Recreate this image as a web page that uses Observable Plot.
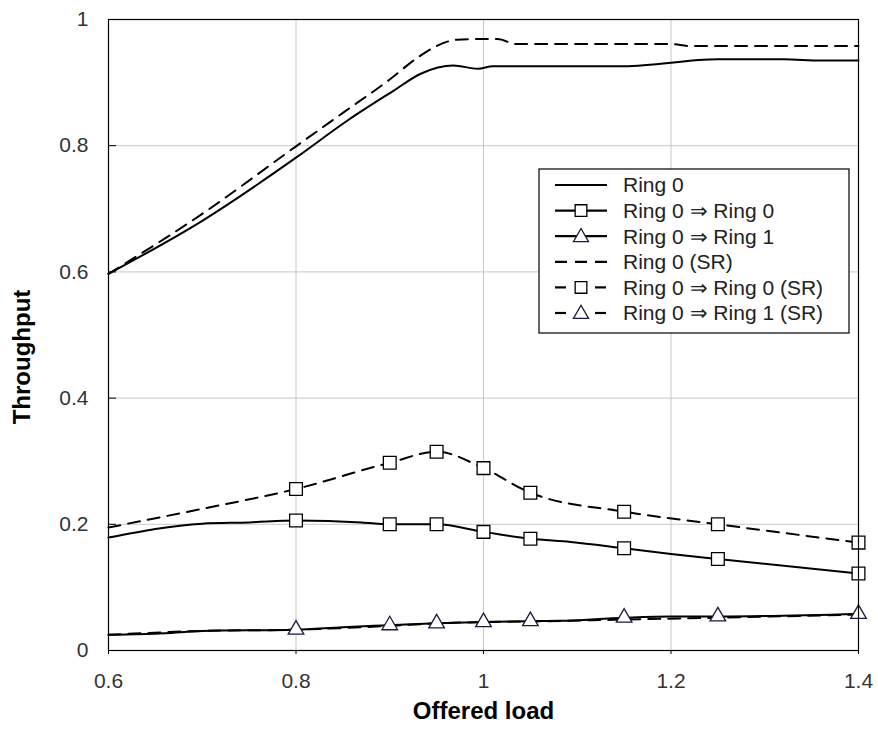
<!DOCTYPE html>
<html>
<head>
<meta charset="utf-8">
<script src="https://cdn.jsdelivr.net/npm/d3@7"></script>
<script src="https://cdn.jsdelivr.net/npm/@observablehq/plot@0.6"></script>
<style>
  html, body { margin: 0; padding: 0; background: #fff; }
  #chart { position: relative; width: 878px; height: 731px; }
  svg { font-family: "Liberation Sans", Arial, sans-serif; }
</style>
</head>
<body>
<div id="chart"></div>
<script>
// ---- data ----
const xTicks = [0.6, 0.8, 1, 1.2, 1.4];
const yTicks = [0, 0.2, 0.4, 0.6, 0.8, 1];
const xGrid = [0.8, 1, 1.2];
const yGrid = [0.2, 0.4, 0.6, 0.8];

const ring0X = [0.6, 0.7, 0.8, 0.855, 0.904, 0.933, 0.968, 0.994, 1.01, 1.15, 1.25, 1.32, 1.36, 1.4];
const ring0Y = [0.597, 0.681, 0.781, 0.840, 0.887, 0.914, 0.927, 0.922, 0.926, 0.926, 0.937, 0.937, 0.935, 0.935];

const ring0SRX = [0.6, 0.7, 0.8, 0.85, 0.9, 0.93, 0.95, 0.972, 1.0, 1.015, 1.035, 1.2, 1.22, 1.4];
const ring0SRY = [0.597, 0.692, 0.799, 0.852, 0.905, 0.940, 0.958, 0.968, 0.969, 0.969, 0.961, 0.961, 0.958, 0.958];

const r00X = [0.6, 0.7, 0.75, 0.8, 0.87, 0.9, 0.95, 1.0, 1.05, 1.093, 1.15, 1.2, 1.25, 1.4];
const r00Y = [0.179, 0.201, 0.203, 0.206, 0.203, 0.200, 0.200, 0.188, 0.177, 0.172, 0.162, 0.153, 0.145, 0.122];
const r00MarkX = [0.8, 0.9, 0.95, 1.0, 1.05, 1.15, 1.25, 1.4];
const r00MarkY = [0.206, 0.200, 0.200, 0.188, 0.177, 0.162, 0.145, 0.122];

const r00SRX = [0.6, 0.7, 0.8, 0.9, 0.95, 1.0, 1.05, 1.15, 1.25, 1.4];
const r00SRY = [0.195, 0.2245, 0.256, 0.2975, 0.315, 0.289, 0.250, 0.220, 0.200, 0.171];
const r00SRMarkX = [0.8, 0.9, 0.95, 1.0, 1.05, 1.15, 1.25, 1.4];
const r00SRMarkY = [0.256, 0.2975, 0.315, 0.289, 0.250, 0.220, 0.200, 0.171];

const r01X = [0.6, 0.66, 0.7, 0.8, 0.85, 0.9, 0.95, 1.0, 1.05, 1.08, 1.15, 1.2, 1.25, 1.4];
const r01Y = [0.025, 0.0275, 0.031, 0.033, 0.037, 0.040, 0.043, 0.045, 0.0465, 0.047, 0.052, 0.054, 0.054, 0.058];
const r01MarkX = [0.8, 0.9, 0.95, 1.0, 1.05, 1.15, 1.25, 1.4];
const r01MarkY = [0.033, 0.040, 0.043, 0.045, 0.0465, 0.052, 0.054, 0.058];

const r01SRX = [0.6, 0.7, 0.8, 0.9, 0.95, 1.0, 1.05, 1.15, 1.25, 1.4];
const r01SRY = [0.025, 0.031, 0.033, 0.039, 0.043, 0.045, 0.046, 0.049, 0.052, 0.057];

const legendLabels = ["Ring 0", "Ring 0 \u21D2 Ring 0", "Ring 0 \u21D2 Ring 1", "Ring 0 (SR)", "Ring 0 \u21D2 Ring 0 (SR)", "Ring 0 \u21D2 Ring 1 (SR)"];

// ---- helpers ----
const pts = (xs, ys) => xs.map((x, i) => ({x, y: ys[i]}));
const DASH = "12,8";
const lineOpts = (dash) => ({x: "x", y: "y", stroke: "black", strokeWidth: 2, curve: "monotone-x", strokeDasharray: dash});
const squareOpts = {x: "x", y: "y", symbol: "square", r: 7.2, fill: "white", stroke: "black", strokeWidth: 1.3};
const triOpts = {x: "x", y: "y", symbol: "triangle", r: 5.8, fill: "white", stroke: "#1a1a40", strokeWidth: 1.3};

const chart = Plot.plot({
  width: 878,
  height: 731,
  marginLeft: 108,
  marginRight: 20,
  marginTop: 19,
  marginBottom: 81,
  style: {fontFamily: "'Liberation Sans', Arial, sans-serif", background: "white"},
  x: {domain: [0.6, 1.4]},
  y: {domain: [0, 1]},
  marks: [
    Plot.gridX(xGrid, {stroke: "#c8c8c8", strokeOpacity: 1, strokeWidth: 1}),
    Plot.gridY(yGrid, {stroke: "#c8c8c8", strokeOpacity: 1, strokeWidth: 1}),
    Plot.line(pts(ring0X, ring0Y), lineOpts(null)),
    Plot.line(pts(ring0SRX, ring0SRY), lineOpts(DASH)),
    Plot.line(pts(r00X, r00Y), lineOpts(null)),
    Plot.line(pts(r00SRX, r00SRY), lineOpts(DASH)),
    Plot.line(pts(r01SRX, r01SRY), lineOpts(DASH)),
    Plot.line(pts(r01X, r01Y), lineOpts(null)),
    Plot.dot(pts(r00SRMarkX, r00SRMarkY), squareOpts),
    Plot.dot(pts(r00MarkX, r00MarkY), squareOpts),
    Plot.dot(pts(r01MarkX, r01MarkY), triOpts),
    Plot.frame({stroke: "black", strokeWidth: 1.2}),
    Plot.axisX(xTicks, {anchor: "bottom", tickSize: 4, tickPadding: 19, tickFormat: d => String(d), fontSize: 21, fill: "#333", label: null}),
    Plot.axisY(yTicks, {anchor: "left", tickSize: -8, tickPadding: 28, tickFormat: d => String(d), fontSize: 21, fill: "#333", label: null}),
    Plot.text(["Throughput"], {frameAnchor: "left", textAnchor: "middle", dx: -86, dy: 22, rotate: -90, fontSize: 24, fontWeight: "bold", fill: "black"}),
    Plot.text(["Offered load"], {frameAnchor: "bottom", textAnchor: "middle", dy: 68, fontSize: 24, fontWeight: "bold", fill: "black"})
  ]
});
document.getElementById("chart").appendChild(chart);

// ---- legend (inside plot) ----
const svg = d3.select(chart);
const lg = svg.append("g").attr("transform", "translate(539,169)").attr("text-anchor", "start");
lg.append("rect").attr("width", 310).attr("height", 164).attr("fill", "white").attr("stroke", "black").attr("stroke-width", 1.2);
const rowH = 25.6;
legendLabels.forEach((lab, i) => {
  const cy = 16 + i * rowH;
  const g = lg.append("g").attr("transform", `translate(0,${cy})`);
  const dashed = i >= 3;
  const kind = i % 3;
  if (dashed && kind > 0) {
    g.append("line").attr("x1", 16).attr("x2", 27).attr("y1", 0).attr("y2", 0).attr("stroke", "black").attr("stroke-width", 2.2);
    g.append("line").attr("x1", 56).attr("x2", 67).attr("y1", 0).attr("y2", 0).attr("stroke", "black").attr("stroke-width", 2.2);
  } else if (dashed) {
    g.append("line").attr("x1", 16).attr("x2", 68).attr("y1", 0).attr("y2", 0).attr("stroke", "black").attr("stroke-width", 2.2).attr("stroke-dasharray", "12,8");
  } else {
    g.append("line").attr("x1", 16).attr("x2", 68).attr("y1", 0).attr("y2", 0).attr("stroke", "black").attr("stroke-width", 2.2);
  }
  if (kind === 1) {
    g.append("path").attr("d", d3.symbol(d3.symbolSquare, 6.6 * 6.6 * Math.PI)()).attr("transform", "translate(42,0)").attr("fill", "white").attr("stroke", "black").attr("stroke-width", 1.3);
  } else if (kind === 2) {
    g.append("path").attr("d", d3.symbol(d3.symbolTriangle, 5.6 * 5.6 * Math.PI)()).attr("transform", "translate(42,1)").attr("fill", "white").attr("stroke", "#1a1a40").attr("stroke-width", 1.3);
  }
  g.append("text").attr("x", 84).attr("y", 0).attr("dy", "0.35em").attr("font-size", 21).attr("fill", "#222").attr("text-anchor", "start").text(lab);
});
</script>
</body>
</html>
